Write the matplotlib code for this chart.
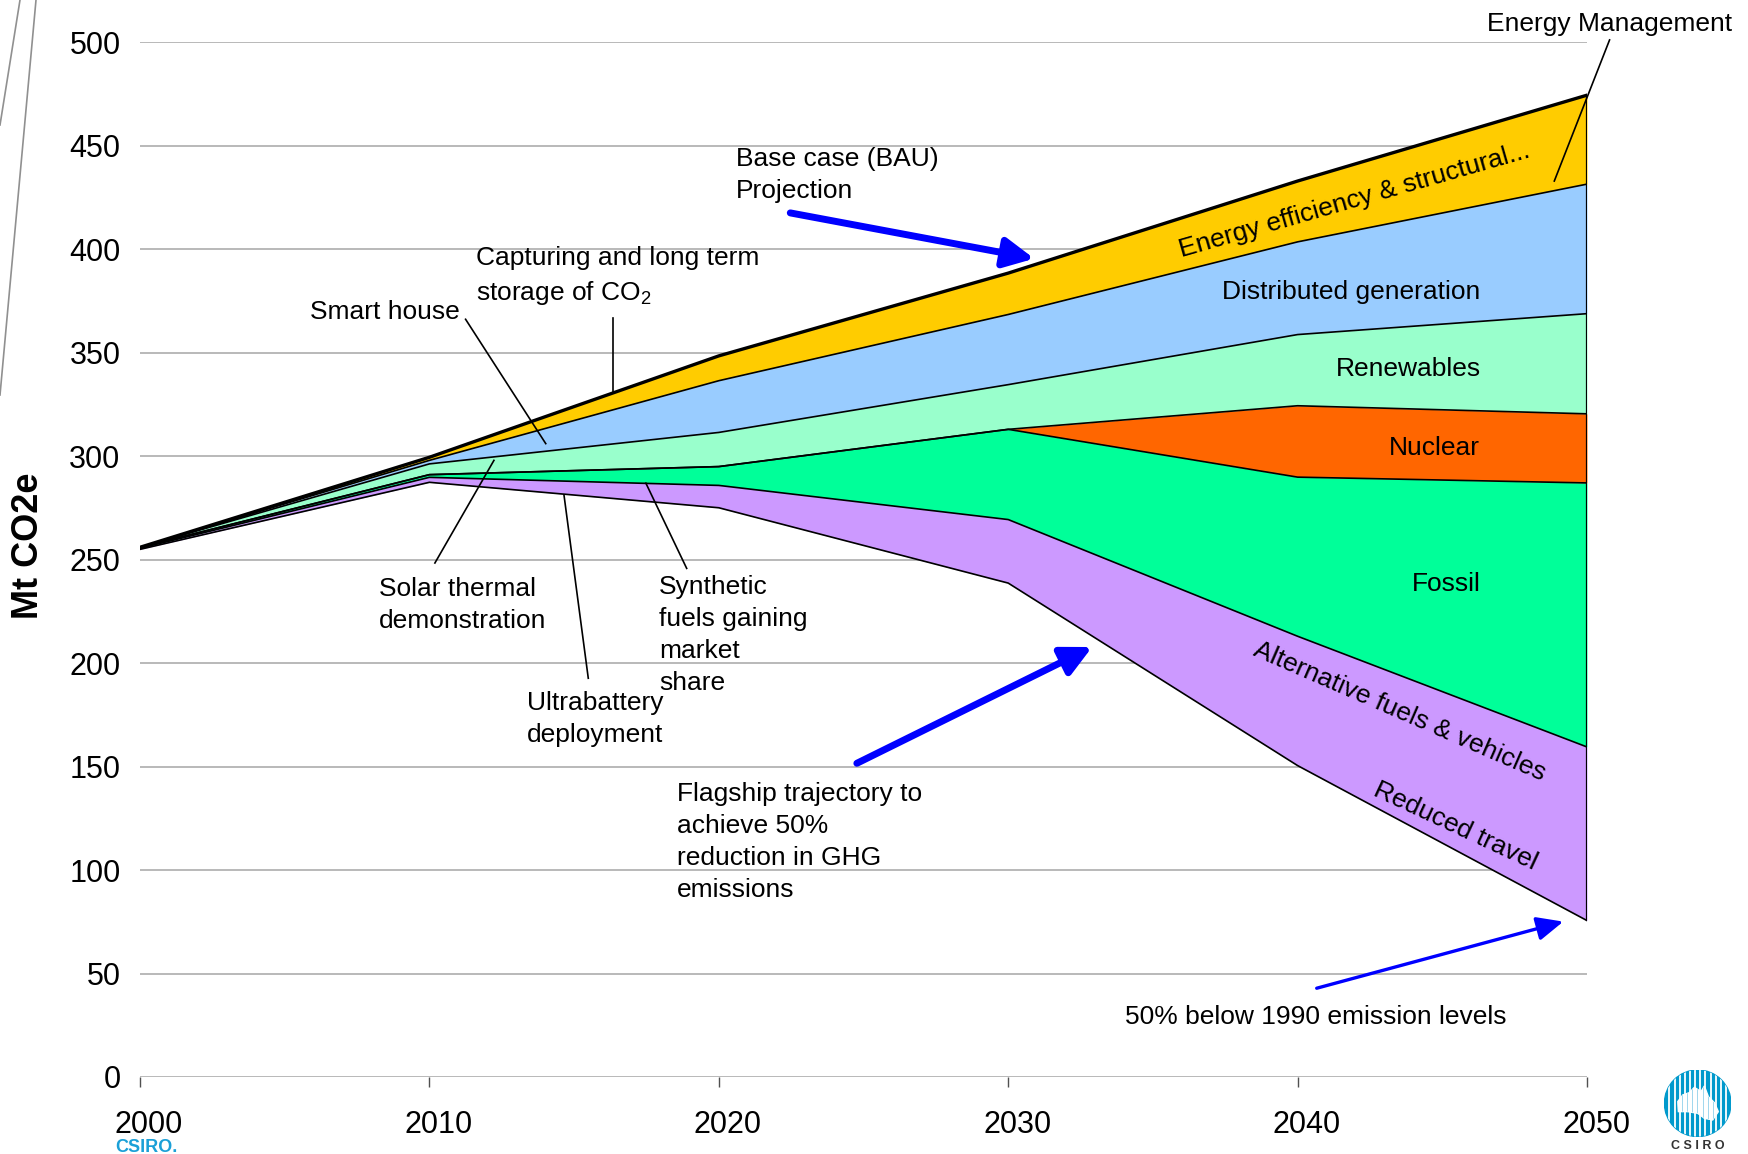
import matplotlib.pyplot as plt
import matplotlib.transforms as mtransforms
from matplotlib.patches import Circle, Polygon
from matplotlib.lines import Line2D
import numpy as np

plt.rcParams['font.family'] = ['Liberation Sans', 'DejaVu Sans']
plt.rcParams['mathtext.fontset'] = 'custom'
plt.rcParams['mathtext.rm'] = 'Liberation Sans'
plt.rcParams['mathtext.default'] = 'regular'

# emissions path, Mt CO2e
years = [2000, 2010, 2020, 2030, 2040, 2050]
bau = [256, 299.5, 348.5, 388.5, 433, 474.5]

# abatement wedges, stacked down from the BAU line
energy_eff = [0, 1.5, 12, 20, 29.4, 43]
distributed = [0, 1.7, 25, 33.9, 44.8, 62.6]
renewables = [0, 5.2, 16.5, 21.6, 34.4, 48.4]
nuclear = [0, 0, 0, 0, 34.5, 33.4]
fossil = [0.5, 1.3, 9.1, 43.6, 76.9, 127.6]
transport = [0.5, 2.4, 10.8, 30.7, 62.5, 83.9]   # alternative fuels + reduced travel

wedges = [energy_eff, distributed, renewables, nuclear, fossil, transport]
colors = ['#FFCC00', '#99CCFF', '#99FFCC', '#FF6600', '#00FF99', '#CC99FF']

y_ticks = list(range(0, 501, 50))
x_labels = ['2000', '2010', '2020', '2030', '2040', '2050']

fig = plt.figure(figsize=(17.48, 11.54), dpi=100)
ax = fig.add_axes([140 / 1748, 77 / 1154, 1447 / 1748, 1034.6 / 1154])

upper = np.array(bau, dtype=float)
for w, c in zip(wedges, colors):
    lower = upper - np.array(w)
    ax.fill_between(years, lower, upper, color=c, lw=0, zorder=2)
    ax.plot(years, lower, color='black', lw=1.2, zorder=3)
    upper = lower
ax.plot(years, bau, color='black', lw=2.4, zorder=4)
ax.vlines(years[-1], upper[-1], bau[-1], color='black', lw=1.6, zorder=4)

ax.set_xlim(2000, 2050)
ax.set_ylim(0, 500)
ax.set_yticks(y_ticks)
ax.set_xticks(years)
ax.set_xticklabels(x_labels)
ax.grid(axis='y', color='#A6A6A6', lw=1.1)
ax.set_axisbelow(True)
for s in ax.spines.values():
    s.set_visible(False)
ax.tick_params(axis='y', length=0, pad=14, labelsize=22)
ax.tick_params(axis='x', length=7, width=1, color='#505050', pad=17, labelsize=22)
offset = mtransforms.ScaledTranslation(9 / 100, 0, fig.dpi_scale_trans)
for lab in ax.get_xticklabels():
    lab.set_transform(lab.get_transform() + offset)

fig.text(28 / 1748, 1 - 546 / 1154, 'Mt CO2e', rotation=90, fontsize=26,
         fontweight='bold', ha='center', va='center')

fs = 19
ls = 1.42

# band labels
ax.text(2041.96, 423.6, 'Energy efficiency & structural...', fontsize=fs, rotation=16,
        rotation_mode='anchor', ha='center', va='center', zorder=5)
ax.text(2041.85, 379.4, 'Distributed generation', fontsize=fs, ha='center', va='center', zorder=5)
ax.text(2043.82, 342.2, 'Renewables', fontsize=fs, ha='center', va='center', zorder=5)
ax.text(2044.74, 304.0, 'Nuclear', fontsize=fs, ha='center', va='center', zorder=5)
ax.text(2045.13, 238.2, 'Fossil', fontsize=fs, ha='center', va='center', zorder=5)
ax.text(2043.54, 176.6, 'Alternative fuels & vehicles', fontsize=fs, rotation=-23.5,
        rotation_mode='anchor', ha='center', va='center', zorder=5)
ax.text(2045.44, 121.0, 'Reduced travel', fontsize=fs, rotation=-25,
        rotation_mode='anchor', ha='center', va='center', zorder=5)

# callouts
notes = [
    (2046.54, 509.0, 'Energy Management'),
    (2020.6, 435.7, 'Base case (BAU)\nProjection'),
    (2011.61, 386.7, 'Capturing and long term\nstorage of CO$_2$'),
    (2005.87, 369.7, 'Smart house'),
    (2008.26, 228.0, 'Solar thermal\ndemonstration'),
    (2013.36, 172.9, 'Ultrabattery\ndeployment'),
    (2017.94, 213.7, 'Synthetic\nfuels gaining\nmarket\nshare'),
    (2018.54, 113.7, 'Flagship trajectory to\nachieve 50%\nreduction in GHG\nemissions'),
    (2034.04, 29.1, '50% below 1990 emission levels'),
]
for x, y, t in notes:
    ax.text(x, y, t, fontsize=fs, ha='left', va='center', linespacing=ls,
            clip_on=False, zorder=5)

leaders = [
    ((2050.78, 501.2), (2048.87, 433.0)),
    ((2016.35, 366.6), (2016.35, 331.2)),
    ((2011.25, 366.2), (2014.02, 306.1)),
    ((2010.19, 248.4), (2012.23, 298.0)),
    ((2015.49, 192.7), (2014.65, 281.3)),
    ((2018.89, 245.8), (2017.48, 287.0)),
]
for (x0, y0), (x1, y1) in leaders:
    ax.plot([x0, x1], [y0, y1], color='black', lw=1.2, clip_on=False, zorder=6)

blue = '#0000FF'
ax.annotate('', xy=(2030.9, 395.5), xytext=(2022.47, 417.6),
            arrowprops=dict(arrowstyle='-|>,head_length=0.9,head_width=0.45', lw=5,
                            color=blue, shrinkA=0, shrinkB=0, mutation_scale=20), zorder=7)
ax.annotate('', xy=(2032.9, 207.8), xytext=(2024.77, 151.6),
            arrowprops=dict(arrowstyle='-|>,head_length=0.9,head_width=0.45', lw=5,
                            color=blue, shrinkA=0, shrinkB=0, mutation_scale=20), zorder=7)
ax.annotate('', xy=(2049.18, 75.1), xytext=(2040.66, 42.9),
            arrowprops=dict(arrowstyle='-|>,head_length=1.0,head_width=0.45', lw=2.4,
                            color=blue, shrinkA=0, shrinkB=0, mutation_scale=16), zorder=7)

# decorative slide lines, top left
for x0, y1 in [(20, 125), (36, 395)]:
    fig.add_artist(Line2D([x0 / 1748, 0], [1, 1 - y1 / 1154], color='#909090', lw=1.2))

fig.text(115 / 1748, 1 - 1152.5 / 1154, 'CSIRO.', color='#1BA0D7', fontweight='bold',
         fontsize=13, ha='left', va='baseline')

# CSIRO logo
lg = fig.add_axes([1664.4 / 1748, (1154 - 1136.6) / 1154, 66.6 / 1748, 66.6 / 1154])
lg.set_xlim(-1, 1)
lg.set_ylim(-1, 1)
lg.axis('off')
disc = Circle((0, 0), 1, color='#0099CC')
lg.add_patch(disc)
oz = Polygon([(-0.6, 0.05), (-0.45, 0.25), (-0.25, 0.32), (-0.1, 0.48), (0.1, 0.35),
              (0.2, 0.52), (0.32, 0.2), (0.5, 0.02), (0.62, -0.25), (0.45, -0.5),
              (0.2, -0.45), (0.0, -0.3), (-0.3, -0.25), (-0.58, -0.25)],
             closed=True, color='white')
lg.add_patch(oz)
for xs in np.linspace(-0.85, 0.85, 12):
    ln = lg.plot([xs, xs], [-1, 1], color='white', lw=1.3)[0]
    ln.set_clip_path(disc)
    ln2 = lg.plot([xs + 0.07, xs + 0.07], [-1, 1], color='#8fd0ea', lw=0.6)[0]
    ln2.set_clip_path(oz)
fig.text(1697.7 / 1748, 1 - 1146 / 1154, 'C S I R O', fontsize=9, fontweight='bold',
         color='#333333', ha='center', va='center')

fig.savefig('out.png', dpi=100)
